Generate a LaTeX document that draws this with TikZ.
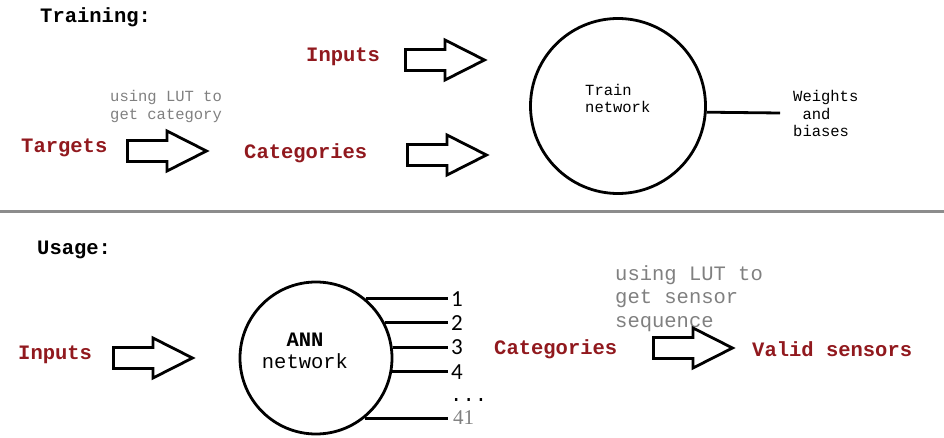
\documentclass[tikz,border=0pt]{standalone}
\usepackage{fontspec}
\setmainfont{Liberation Mono}
\newfontfamily\numfont{Carlito}
\newfontfamily\sernum{Liberation Serif}
\definecolor{lbl}{RGB}{145,25,30}
\definecolor{notegray}{RGB}{128,128,128}
\definecolor{sepgray}{RGB}{140,140,140}
\tikzset{
  barrow/.pic={\draw[line width=2.8pt, line join=miter] (-39.5,-10.5) -- (0,-10.5) -- (0,-20) -- (39.5,0) -- (0,20) -- (0,10.5) -- (-39.5,10.5) -- cycle;}
}
\begin{document}
\begin{tikzpicture}[x=1pt,y=-1pt,
  lab/.style={font=\fontsize{20.5}{23.5}\selectfont\bfseries, text=lbl, inner sep=0pt, anchor=west},
  title/.style={font=\fontsize{20.5}{23.5}\selectfont\bfseries, inner sep=0pt, anchor=west},
  note/.style={font=\fontsize{15.5}{18}\selectfont, text=notegray, align=left, inner sep=0pt, anchor=west},
  bignote/.style={font=\fontsize{20.5}{23.5}\selectfont, text=notegray, align=left, inner sep=0pt, anchor=west},
  small/.style={font=\fontsize{15.5}{17.5}\selectfont, align=left, inner sep=0pt},
  ring/.style={circle, draw, line width=2.8pt, inner sep=0pt},
  wire/.style={line width=2.8pt},
  num/.style={font=\numfont\fontsize{23}{23}\selectfont, anchor=west, inner ysep=0pt, inner xsep=3pt}
]
\useasboundingbox (0,0) rectangle (944,438);

% ---------- Training ----------
\node[title] (ttl1) at (40,17) {Training:};
\node[lab] (tin) at (306,57) {Inputs};
\node[lab] (ttg) at (21,148) {Targets};
\node[lab] (tcat) at (244,153) {Categories};
\node[note] (tlut) at (110,106) {using LUT to\\get category};
\pic (ta1) at (445,60) {barrow};
\pic (ta2) at (167,151) {barrow};
\pic (ta3) at (447,155) {barrow};
\node[ring, minimum size=175pt] (train) at (618,106) {};
\node[small, anchor=west] (traintxt) at (585,98.5) {Train\\network};
\node[small, anchor=west] (wb) at (793,113.5) {Weights\\\hspace*{0.6em}and\\biases};
\coordinate (wend) at (780,113);
\draw[wire] (train.-4.5) -- (wend);

% ---------- separator ----------
\draw[line width=3pt, sepgray] (0,212) -- (944,212);

% ---------- Usage ----------
\node[title] (ttl2) at (37,250) {Usage:};
\node[lab] (uin) at (18,355) {Inputs};
\pic (ua1) at (153,358) {barrow};
\node[ring, minimum size=152pt] (ann) at (316,358) {};
\node[small, align=center, font=\fontsize{20.5}{22}\selectfont] (anntxt) at (305,351) {\textbf{ANN}\\network};

\node[num] (o1) at (448,299) {1};
\node[num] (o2) at (448,323) {2};
\node[num] (o3) at (448,347) {3};
\node[num] (o4) at (448,372) {4};
\node[num, font=\fontsize{20.5}{20.5}\selectfont] (odots) at (447,400) {...};
\node[num, font=\sernum\fontsize{21}{21}\selectfont, text=notegray] (o41) at (450,418) {41};
\draw[wire] (ann.50) -- (ann.50 -| o1.west);
\draw[wire] (ann.27) -- (ann.27 -| o2.west);
\draw[wire] (ann.8.2) -- (ann.8.2 -| o3.west);
\draw[wire] (ann.-10.5) -- (ann.-10.5 -| o4.west);
\draw[wire] (ann.-51.2) -- (ann.-51.2 -| o1.west);

\node[lab] (ucat) at (494,349) {Categories};
\node[bignote] (ulut) at (615,298.5) {using LUT to\\get sensor\\sequence};
\pic (ua2) at (693,348) {barrow};
\node[lab] (uval) at (752,349) {Valid sensors};
\end{tikzpicture}
\end{document}
